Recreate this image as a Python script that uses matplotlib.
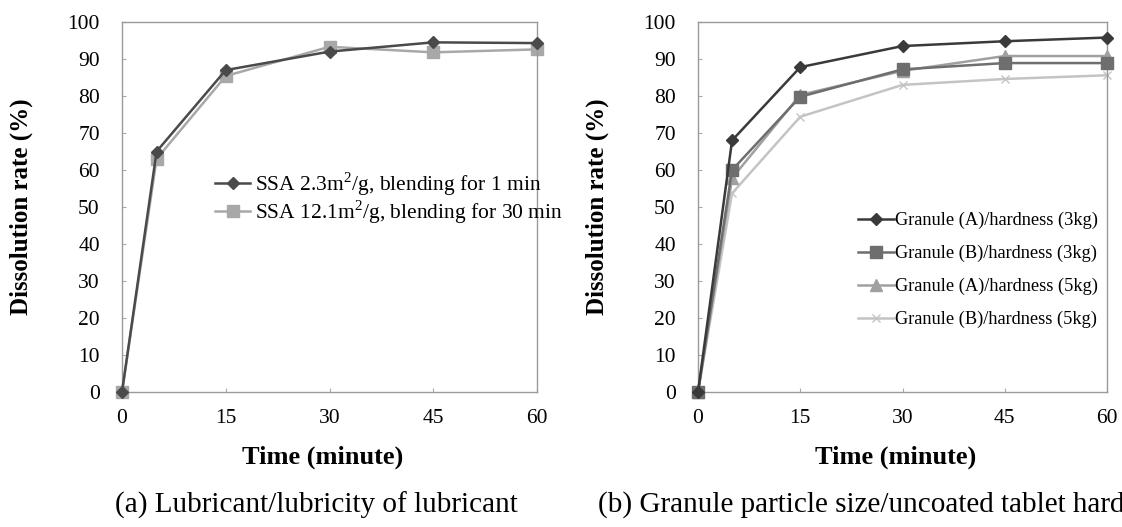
import numpy as np
import matplotlib
matplotlib.use("Agg")
import matplotlib.pyplot as plt

plt.rcParams['font.family'] = ['Liberation Serif', 'DejaVu Serif']
plt.rcParams['mathtext.fontset'] = 'custom'
plt.rcParams['mathtext.rm'] = 'Liberation Serif'

# Data
time_min = [0, 5, 15, 30, 45, 60]

# (a) lubricant
ssa_23 = [0, 65, 87, 92, 94.5, 94.3]
ssa_121 = [0, 63, 85.4, 93.3, 91.8, 92.6]
labels_a = ['SSA 2.3m$^2$/g, blending for 1 min',
            'SSA 12.1m$^2$/g, blending for 30 min']

# (b) granule / hardness
gran_a_3kg = [0, 68, 87.8, 93.5, 94.8, 95.8]
gran_b_3kg = [0, 60, 79.8, 87.2, 88.9, 88.9]
gran_a_5kg = [0, 57.8, 80.3, 86.8, 90.8, 90.8]
gran_b_5kg = [0, 53.7, 74.4, 83, 84.6, 85.6]
labels_b = ['Granule (A)/hardness (3kg)', 'Granule (B)/hardness (3kg)',
            'Granule (A)/hardness (5kg)', 'Granule (B)/hardness (5kg)']

xticks = [0, 15, 30, 45, 60]
yticks = np.arange(0, 101, 10)

fig = plt.figure(figsize=(11.22, 5.27), dpi=100)
W, H = 1122, 527


def make_axes(x0, x1, y_top=22, y_bot=392):
    ax = fig.add_axes([x0 / W, 1 - y_bot / H, (x1 - x0) / W, (y_bot - y_top) / H])
    ax.set_xlim(0, 60)
    ax.set_ylim(0, 100)
    ax.set_xticks(xticks)
    ax.set_yticks(yticks)
    for s in ax.spines.values():
        s.set_color('#9a9a9a')
        s.set_linewidth(1.0)
    ax.tick_params(direction='in', length=3, color='#aaaaaa', labelsize=15.5)
    ax.tick_params(axis='x', pad=12)
    ax.tick_params(axis='y', pad=16)
    ax.set_xlabel('Time (minute)', fontsize=19, fontweight='bold')
    ax.set_ylabel('Dissolution rate (%)', fontsize=18, fontweight='bold')
    w = x1 - x0
    ax.xaxis.set_label_coords(0.5 - 7 / w, -54 / (y_bot - y_top))
    ax.yaxis.set_label_coords(-89 / w, 0.5)
    return ax


# panel (a)
ax1 = make_axes(122, 537)
ax1.plot(time_min, ssa_23, color='#4a4a4a', lw=1.8, marker='D', ms=6,
         label=labels_a[0], clip_on=False, zorder=3)
ax1.plot(time_min, ssa_121, color='#a8a8a8', lw=1.8, marker='s', ms=8,
         label=labels_a[1], clip_on=False, zorder=2)
ax1.legend(loc='upper left', bbox_to_anchor=(0.224, 0.6), frameon=False,
           fontsize=15.5, handlelength=1.65, handletextpad=0.2, borderpad=0,
           borderaxespad=0, labelspacing=0.02)

# panel (b)
ax2 = make_axes(698, 1107)
ax2.plot(time_min, gran_a_3kg, color='#3a3a3a', lw=1.8, marker='D', ms=6,
         label=labels_b[0], clip_on=False, zorder=5)
ax2.plot(time_min, gran_b_3kg, color='#6e6e6e', lw=1.8, marker='s', ms=9,
         label=labels_b[1], clip_on=False, zorder=4)
ax2.plot(time_min, gran_a_5kg, color='#a0a0a0', lw=1.8, marker='^', ms=8,
         label=labels_b[2], clip_on=False, zorder=3)
ax2.plot(time_min, gran_b_5kg, color='#c4c4c4', lw=1.8, marker='x', ms=6,
         label=labels_b[3], clip_on=False, zorder=2)
ax2.legend(loc='upper left', bbox_to_anchor=(0.39, 0.486), frameon=False,
           fontsize=13.2, handlelength=2.0, handletextpad=0.05, borderpad=0,
           borderaxespad=0, labelspacing=0.85)

# captions (the reference crops the second one at the right edge)
fig.text(115 / W, 1 - 505 / H, '(a) Lubricant/lubricity of lubricant',
         fontsize=21, va='center', ha='left')
fig.text(598 / W, 1 - 505 / H,
         '(b) Granule particle size/uncoated tablet hardness',
         fontsize=21, va='center', ha='left')

fig.savefig('out.png', dpi=100)
